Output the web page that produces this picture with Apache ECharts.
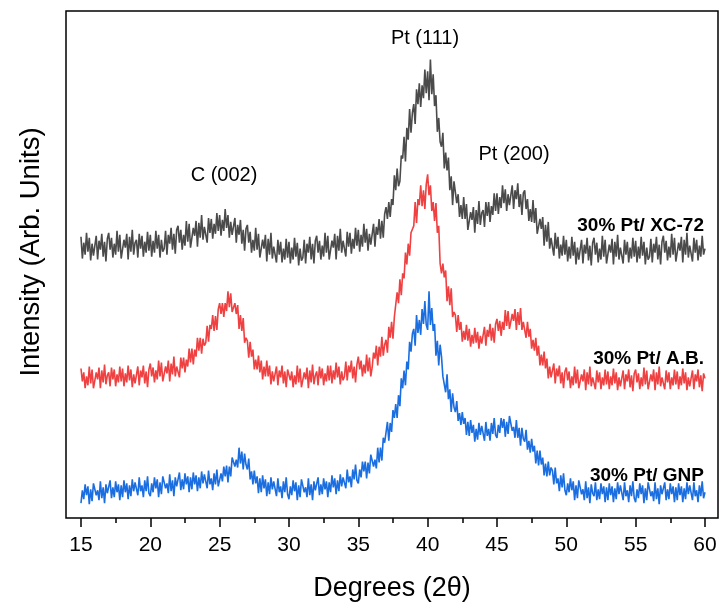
<!DOCTYPE html>
<html>
<head>
<meta charset="utf-8">
<script src="https://cdn.jsdelivr.net/npm/echarts@6/dist/echarts.min.js"></script>
<style>html,body{margin:0;padding:0;background:#fff}#c{width:720px;height:607px}</style>
</head>
<body>
<div id="c"></div>
<script>
// 2θ sampling of the scans
const degStart = 15;
const degStep = 0.1;

// 30% Pt/ XC-72 (arbitrary units)
const xc72 = [
284,262,278,266,288,269,283,260,277,265,
267,285,261,280,271,287,264,279,259,282,
288,271,283,263,277,266,290,269,286,262,
264,281,273,287,261,284,269,291,266,278,
281,263,287,272,285,264,279,268,289,270,
286,264,280,268,290,272,286,263,281,269,
272,290,266,286,277,293,271,287,267,291,
295,278,291,271,286,275,300,279,297,273,
275,293,285,300,274,298,283,306,281,294,
296,278,303,288,302,282,297,287,308,290,
306,285,301,290,312,293,306,283,299,286,
286,303,278,296,286,301,277,291,270,292,
296,278,289,268,281,270,293,271,287,263,
264,281,272,286,259,282,266,288,262,274,
276,258,281,266,279,258,272,261,282,263,
279,257,273,261,283,264,278,255,272,260,
263,281,257,277,268,284,261,277,257,280,
285,268,280,261,275,264,288,268,285,261,
263,280,273,287,261,285,270,292,268,280,
282,264,289,274,288,267,282,272,293,275,
291,269,286,274,297,278,292,270,287,276,
278,297,274,294,286,302,282,300,283,307,
314,302,319,304,322,316,346,331,353,335,
340,366,363,385,360,394,382,413,389,409,
418,398,433,418,439,415,437,424,453,429,
451,422,463,428,448,416,427,390,404,380,
375,389,353,369,351,364,331,345,316,340,
338,318,327,304,316,302,324,302,317,291,
292,309,301,314,288,311,297,320,296,308,
311,294,319,305,319,299,315,306,328,310,
328,307,324,313,336,318,332,310,327,316,
318,336,312,331,322,338,314,327,306,328,
331,312,322,300,312,299,321,298,313,287,
287,302,292,304,275,296,279,299,272,283,
284,265,288,272,284,262,276,265,285,266,
281,259,274,262,284,265,279,256,273,261,
263,281,257,276,267,283,260,275,255,278,
283,266,278,258,272,261,285,264,281,257,
259,276,268,282,256,279,264,286,261,273,
275,257,281,266,279,258,273,262,283,264,
280,258,274,262,284,265,279,256,273,261,
264,282,258,277,268,284,261,276,256,279,
285,268,280,260,274,263,287,266,283,259,
261,278,270,284,258,281,266,288,263,275,
277,259,283,268,281,260,275,264,285,266,
272
];

// 30% Pt/ A.B.
const ab = [
151,138,147,131,143,134,153,136,150,131,
133,147,140,152,131,149,137,155,135,144,
147,133,152,140,150,133,145,137,153,138,
151,133,146,137,154,139,150,132,145,136,
138,153,134,149,142,154,136,148,132,150,
156,143,152,137,149,140,159,143,157,138,
139,153,146,159,138,156,145,163,143,153,
155,142,162,151,162,147,160,153,171,157,
171,155,170,163,182,169,182,166,181,174,
177,194,178,195,191,205,189,204,190,211,
217,206,217,203,217,209,229,213,227,208,
206,217,206,215,191,205,189,202,177,182,
179,162,178,163,170,150,160,150,164,147,
159,140,153,143,159,143,154,135,148,138,
138,153,134,149,142,154,136,148,132,150,
152,139,148,132,144,135,154,137,151,132,
133,147,140,152,131,149,137,155,135,144,
148,134,153,141,151,134,146,138,154,139,
154,136,149,140,157,142,153,135,148,139,
143,158,139,154,147,159,141,153,137,155,
163,150,159,143,155,146,165,148,162,143,
152,167,161,174,154,173,163,183,164,175,
180,167,193,182,198,181,203,201,228,217,
241,225,247,242,268,256,277,265,288,287,
295,319,298,322,316,336,315,331,312,337,
347,326,336,310,319,300,318,288,295,257,
247,257,243,250,219,234,215,232,203,208,
205,188,205,190,198,178,189,180,195,179,
191,173,185,176,192,177,188,171,184,176,
177,193,174,190,183,196,179,192,177,196,
201,189,199,184,198,190,210,194,209,191,
192,206,199,211,190,208,195,212,190,198,
199,182,198,183,191,171,180,169,182,164,
174,154,165,154,168,151,161,141,153,142,
142,156,136,151,143,154,136,147,131,148,
152,139,148,131,143,134,153,136,150,131,
131,145,138,150,129,147,135,153,133,142,
144,130,149,137,147,130,142,134,150,135,
148,130,143,134,151,136,147,129,142,133,
134,149,130,145,138,150,132,144,128,146,
150,137,146,130,142,133,152,135,149,130,
131,145,138,150,129,147,135,153,133,142,
144,130,149,137,147,130,142,134,150,135,
148,130,143,134,151,136,147,129,142,133,
134,149,130,145,138,150,132,144,128,146,
141
];

// 30% Pt/ GNP
const gnp = [
15,28,19,34,23,32,14,29,17,35,
35,23,28,18,37,20,31,15,34,25,
24,38,20,31,21,37,26,34,18,33,
21,38,26,35,19,33,22,39,27,36,
36,23,41,27,33,21,38,27,42,25,
22,35,26,41,30,39,21,36,24,42,
42,30,35,25,44,27,38,22,41,32,
32,46,28,39,29,45,34,42,26,41,
29,46,34,43,27,41,30,47,35,44,
43,30,48,34,40,28,45,34,49,32,
32,45,37,52,42,53,36,52,42,61,
61,52,59,51,71,55,67,49,65,54,
49,60,39,47,34,48,35,42,25,40,
26,43,30,39,22,36,24,41,29,37,
35,22,40,26,32,20,37,26,41,24,
19,32,23,38,27,36,18,33,21,39,
38,26,31,21,40,23,34,18,37,28,
27,41,23,34,24,40,29,37,21,36,
26,43,31,40,24,38,27,44,32,41,
43,30,49,36,42,31,49,39,54,38,
35,49,41,57,47,57,40,56,45,64,
63,52,59,50,71,56,71,58,81,76,
77,97,78,96,87,109,101,115,101,124,
113,141,131,149,134,158,150,178,168,186,
191,174,205,187,200,185,211,196,219,195,
190,229,195,212,189,196,164,179,154,175,
163,143,144,127,145,120,130,107,126,112,
107,118,98,106,94,107,95,101,84,97,
83,99,86,94,77,90,79,96,84,93,
91,78,97,83,90,78,96,85,101,84,
81,94,86,101,91,100,82,97,85,103,
101,88,92,81,99,81,91,73,91,80,
77,89,69,78,66,80,67,73,55,68,
53,68,54,61,43,55,42,57,43,51,
48,34,51,35,40,27,43,31,45,28,
23,35,26,40,28,37,18,33,20,38,
36,24,29,18,37,20,31,15,34,25,
22,36,18,29,19,35,24,32,16,31,
18,35,23,32,16,30,19,36,24,33,
31,18,36,22,28,16,33,22,37,20,
16,29,20,35,24,33,15,30,18,36,
34,22,27,17,36,19,30,14,33,24,
22,36,18,29,19,35,24,32,16,31,
18,35,23,32,16,30,19,36,24,33,
31,18,36,22,28,16,33,22,37,20,
26
];

const xTicks = [15, 20, 25, 30, 35, 40, 45, 50, 55, 60];
const xMinorTicks = [17.5, 22.5, 27.5, 32.5, 37.5, 42.5, 47.5, 52.5, 57.5];
const sampleNames = ['30% Pt/ XC-72', '30% Pt/ A.B.', '30% Pt/ GNP'];
const peakNames = ['C (002)', 'Pt (111)', 'Pt (200)'];
const xTitle = 'Degrees (2\u03B8)';
const yTitle = 'Intensity (Arb. Units)';

function pairs(arr) {
  return arr.map(function (v, i) { return [+(degStart + i * degStep).toFixed(2), v]; });
}

const FONT = '"Liberation Sans", Arial, Helvetica, sans-serif';
const chart = echarts.init(document.getElementById('c'), null, {renderer: 'canvas'});
const colors = ['#4b4b4b', '#ef4141', '#1b6ee0'];
const seriesData = [xc72, ab, gnp];

chart.setOption({
  animation: false,
  backgroundColor: '#fff',
  grid: {left: 66, right: 2, top: 11, bottom: 84, show: true, borderColor: '#000', borderWidth: 1.5, backgroundColor: 'transparent'},
  xAxis: [{
    type: 'value', min: 13.92, max: 60.94, position: 'bottom',
    axisLine: {show: false},
    axisTick: {show: true, customValues: xTicks, length: 9, lineStyle: {color: '#000', width: 1.5}},
    axisLabel: {customValues: xTicks, fontSize: 21, color: '#000', margin: 17, fontFamily: FONT},
    splitLine: {show: false},
    name: xTitle, nameLocation: 'middle', nameGap: 57,
    nameTextStyle: {fontSize: 27, color: '#000', fontFamily: FONT}
  }, {
    type: 'value', min: 13.92, max: 60.94, position: 'bottom',
    axisLine: {show: false},
    axisTick: {show: true, customValues: xMinorTicks, length: 5, lineStyle: {color: '#000', width: 1.5}},
    axisLabel: {show: false},
    splitLine: {show: false}
  }],
  yAxis: {
    type: 'value', min: 0, max: 512,
    axisLine: {show: false}, axisTick: {show: false}, axisLabel: {show: false}, splitLine: {show: false}
  },
  series: seriesData.map(function (d, k) {
    return {
      name: sampleNames[k], type: 'line', xAxisIndex: 0, showSymbol: false, silent: true,
      data: pairs(d), lineStyle: {color: colors[k], width: 1.6}, itemStyle: {color: colors[k]}
    };
  }),
  graphic: [
    {type: 'text', x: 31, y: 252, rotation: Math.PI / 2, style: {text: yTitle, align: 'center', verticalAlign: 'middle', fontSize: 27.5, fontFamily: FONT, fill: '#000'}},
    {type: 'text', x: 224, y: 175, style: {text: peakNames[0], align: 'center', verticalAlign: 'middle', fontSize: 20, fontFamily: FONT, fill: '#000'}},
    {type: 'text', x: 425, y: 38, style: {text: peakNames[1], align: 'center', verticalAlign: 'middle', fontSize: 20, fontFamily: FONT, fill: '#000'}},
    {type: 'text', x: 514, y: 154, style: {text: peakNames[2], align: 'center', verticalAlign: 'middle', fontSize: 20, fontFamily: FONT, fill: '#000'}},
    {type: 'text', x: 704, y: 226, style: {text: sampleNames[0], align: 'right', verticalAlign: 'middle', fontSize: 19, fontWeight: 'bold', fontFamily: FONT, fill: '#000'}},
    {type: 'text', x: 704, y: 359, style: {text: sampleNames[1], align: 'right', verticalAlign: 'middle', fontSize: 19, fontWeight: 'bold', fontFamily: FONT, fill: '#000'}},
    {type: 'text', x: 704, y: 476, style: {text: sampleNames[2], align: 'right', verticalAlign: 'middle', fontSize: 19, fontWeight: 'bold', fontFamily: FONT, fill: '#000'}}
  ]
});
</script>
</body>
</html>
